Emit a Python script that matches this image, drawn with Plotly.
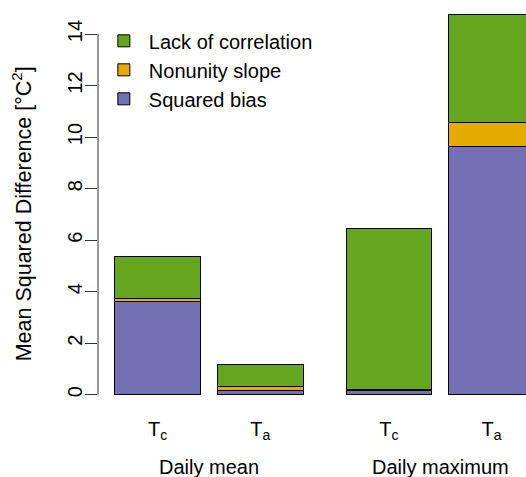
import plotly.graph_objects as go

# Mean squared difference decomposition for each temperature series
bar_labels = ["T<sub>c</sub>", "T<sub>a</sub>", "T<sub>c</sub>", "T<sub>a</sub>"]
group_labels = ["Daily mean", "Daily maximum"]
squared_bias = [3.63, 0.16, 0.15, 9.63]
nonunity_slope = [0.11, 0.15, 0.05, 0.94]
lack_of_corr = [1.62, 0.87, 6.27, 4.20]
y_ticks = [0, 2, 4, 6, 8, 10, 12, 14]

# barplot-style layout: unit-width bars, small gap inside a group, larger between groups
space = [0.2, 0.2, 0.5, 0.2]
centers, edge = [], 0.0
for s in space:
    edge += s
    centers.append(edge + 0.5)
    edge += 1.0
group_centers = [(centers[0] + centers[1]) / 2, (centers[2] + centers[3]) / 2]

colors = {"bias": "#7570B3", "slope": "#E6AB02", "corr": "#66A61E"}
font = "Liberation Sans, Arial, sans-serif"

fig = go.Figure()
for name, vals, col in [
    ("Squared bias", squared_bias, colors["bias"]),
    ("Nonunity slope", nonunity_slope, colors["slope"]),
    ("Lack of correlation", lack_of_corr, colors["corr"]),
]:
    fig.add_trace(go.Bar(
        x=centers, y=vals, width=1.0, name=name, legendgroup=name,
        marker=dict(color=col, line=dict(color="black", width=1)),
    ))

x_left = space[0] - 0.04 * (edge - space[0])
px_per_unit = 85.64

fig.update_layout(
    width=526, height=477,
    margin=dict(l=98, r=0, t=0, b=67),
    barmode="stack",
    plot_bgcolor="white", paper_bgcolor="white",
    font=dict(family=font, size=20, color="black"),
    showlegend=True,
    legend=dict(
        x=0.002, y=0.948, xanchor="left", yanchor="top",
        traceorder="reversed", tracegroupgap=3, itemwidth=40,
        bgcolor="rgba(0,0,0,0)", font=dict(size=20),
    ),
    xaxis=dict(
        range=[x_left, x_left + 428 / px_per_unit],
        tickvals=centers, ticktext=bar_labels,
        showline=False, showgrid=False, zeroline=False, ticks="",
        ticklabelstandoff=5,
    ),
    yaxis=dict(
        range=[-0.594, 15.32],
        tickvals=y_ticks, tickangle=-90,
        ticks="outside", ticklen=12, tickcolor="#333", tickwidth=1,
        showline=False, showgrid=False, zeroline=False,
        ticklabelstandoff=-5,
    ),
)

# y axis line spans only the tick range
fig.add_shape(type="line", xref="paper", yref="y", x0=0, x1=0, y0=0, y1=14,
              line=dict(color="#333", width=1))

fig.add_annotation(
    text="Mean Squared Difference [°C<sup>2</sup>]",
    xref="paper", yref="y", x=0, y=7.0, xshift=-76,
    xanchor="center", yanchor="middle", textangle=-90, showarrow=False,
    font=dict(size=21.5),
)
for g, gx in zip(group_labels, group_centers):
    fig.add_annotation(
        text=g, xref="x", yref="paper", x=gx, y=0, yshift=-57,
        xanchor="center", yanchor="middle", showarrow=False, font=dict(size=20),
    )

fig.write_html("out.html")
